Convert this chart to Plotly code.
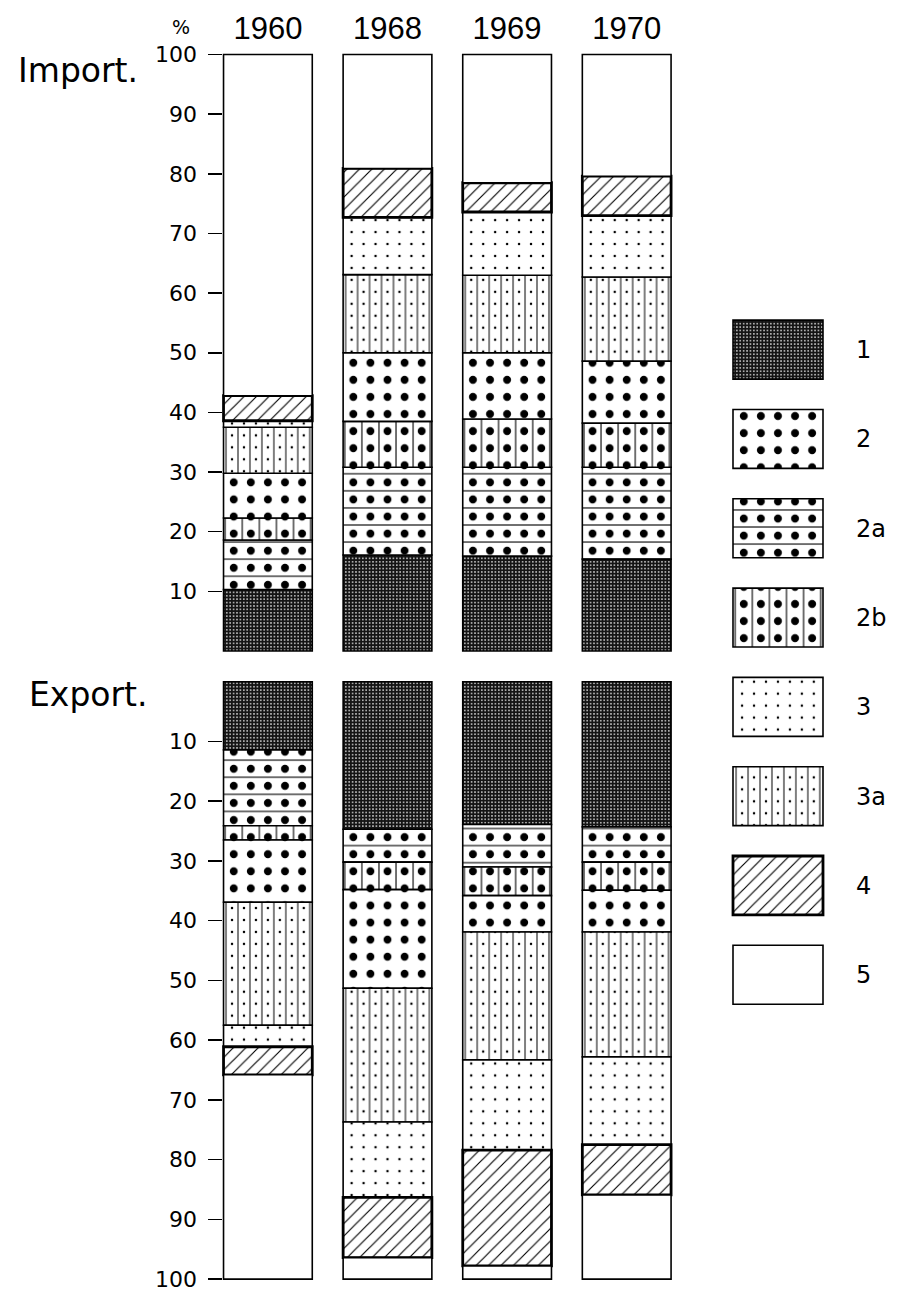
import numpy as np
import plotly.graph_objects as go

# ---------------- data (percent shares) ----------------
years = ["1960", "1968", "1969", "1970"]
# stacking order: from the 0 line outwards
classes = ["1", "2a", "2b", "2", "3a", "3", "4", "5"]
legend_classes = ["1", "2", "2a", "2b", "3", "3a", "4", "5"]

import_1 = [10.3, 16.1, 15.9, 15.4]
import_2a = [8.3, 14.7, 14.9, 15.4]
import_2b = [3.7, 7.7, 8.1, 7.4]
import_2 = [7.5, 11.5, 11.1, 10.4]
import_3a = [7.7, 13.1, 13.0, 14.1]
import_3 = [1.1, 9.6, 10.6, 10.3]
import_4 = [4.2, 8.2, 4.9, 6.6]
import_5 = [57.2, 19.1, 21.5, 20.4]

export_1 = [11.4, 24.7, 23.9, 24.3]
export_2a = [12.7, 5.5, 7.1, 5.9]
export_2b = [2.4, 4.6, 4.8, 4.7]
export_2 = [10.4, 16.5, 6.1, 7.0]
export_3a = [20.6, 22.4, 21.4, 20.9]
export_3 = [3.6, 12.6, 15.1, 14.7]
export_4 = [4.7, 10.1, 19.4, 8.4]
export_5 = [34.2, 3.6, 2.2, 14.1]

tick_values = [10, 20, 30, 40, 50, 60, 70, 80, 90, 100]
tick_labels = ["10", "20", "30", "40", "50", "60", "70", "80", "90", "100"]

import_data = {"1": import_1, "2a": import_2a, "2b": import_2b, "2": import_2,
               "3a": import_3a, "3": import_3, "4": import_4, "5": import_5}
export_data = {"1": export_1, "2a": export_2a, "2b": export_2b, "2": export_2,
               "3a": export_3a, "3": export_3, "4": export_4, "5": export_5}

# ---------------- geometry (pixels) ----------------
W, H = 902, 1300
X0 = 208.1          # pixel of category -0.5
U = 119.6           # pixels per category
X1 = X0 + 4 * U
BAR_W = 0.742
S = U / 7           # big-dot tile
s = U / 10          # small-dot tile

IMP_ZERO, IMP_K = 652.0, -6.011
EXP_ZERO, EXP_K = 683.0, 6.02
LEG_X0, LEG_XU = 733.0, 90.0
LEG_Y0, LEG_YU = 348.3, 90.0
LEG_PAD = 14.85
LEG_W = 0.66
legend_span = 1

FONT = "DejaVu Sans"
TRANSP = "rgba(0,0,0,0)"


def xdom(p0, p1):
    return [p0 / W, p1 / W]


def ydom(ptop, pbot):
    return [1 - pbot / H, 1 - ptop / H]


def cat_x(dx):
    return dict(type="category", categoryorder="array", categoryarray=years,
                domain=xdom(X0 + dx, X1), range=[-0.5 + dx / U, 3.5])


def imp_y(dy):
    pt, pb = 43 + dy, 656
    return dict(domain=ydom(pt, pb),
                range=[(pb - IMP_ZERO) / IMP_K, (pt - IMP_ZERO) / IMP_K])


def exp_y(dy):
    pt, pb = 676 + dy, 1292
    return dict(domain=ydom(pt, pb),
                range=[(pb - EXP_ZERO) / EXP_K, (pt - EXP_ZERO) / EXP_K])


def leg_x(dx):
    p0, p1 = LEG_X0 - LEG_PAD + dx, 838
    return dict(domain=xdom(p0, p1),
                range=[(p0 - LEG_X0) / LEG_XU, (p1 - LEG_X0) / LEG_XU])


def leg_y(dy):
    pt, pb = LEG_Y0 - 45 + dy, LEG_Y0 + 7 * LEG_YU + 45
    return dict(type="category", categoryorder="array", categoryarray=legend_classes,
                domain=ydom(pt, pb),
                range=[(pb - LEG_Y0) / LEG_YU, (pt - LEG_Y0) / LEG_YU])


# ---------------- styles ----------------
def pat(**kw):
    d = dict(fillmode="replace", fgopacity=1)
    d.update(kw)
    return d


def base_marker(c):
    line = dict(color="black", width=1.6)
    if c == "1":
        p = pat(shape=".", bgcolor="#141414", fgcolor="#d0d0d0", size=3.4, solidity=0.22)
        return dict(color="#141414", line=line, pattern=p)
    if c in ("2", "2a", "2b"):
        p = pat(shape=".", bgcolor="white", fgcolor="black", size=S, solidity=0.17)
        return dict(color="white", line=line, pattern=p)
    if c == "3a":
        p = pat(shape="|", bgcolor="white", fgcolor="black", size=s, solidity=1.0 / s)
        return dict(color="white", line=line, pattern=p)
    if c == "4":
        p = pat(shape="/", bgcolor="white", fgcolor="black", size=8.8, solidity=0.13)
        return dict(color="white", line=dict(color="black", width=2.8), pattern=p)
    return dict(color="white", line=line)


def over_b_marker(c):
    if c == "2a":
        shape = "-"
    elif c == "2b":
        shape = "|"
    else:
        return None
    return dict(color=TRANSP, line=dict(width=0),
                pattern=pat(shape=shape, bgcolor=TRANSP, fgcolor="black", size=S, solidity=1.1 / S))


def over_c_marker(c):
    if c not in ("3", "3a"):
        return None
    return dict(color=TRANSP, line=dict(width=0),
                pattern=pat(shape=".", bgcolor=TRANSP, fgcolor="black", size=s, solidity=0.035))


fig = go.Figure()


def add_panel(data, ya_base, ya_b):
    layers = [(base_marker, "x", ya_base), (over_b_marker, "x2", ya_b), (over_c_marker, "x3", ya_base)]
    for mfun, xa, ya in layers:
        cum = np.zeros(len(years))
        for c in classes:
            v = np.array(data[c], dtype=float)
            m = mfun(c)
            if m is not None:
                fig.add_trace(go.Bar(x=years, y=v, base=cum.copy(), width=BAR_W,
                                     xaxis=xa, yaxis=ya, marker=m, name=c,
                                     showlegend=False, hoverinfo="skip"))
            cum += v


add_panel(import_data, "y", "y3")
add_panel(export_data, "y2", "y4")

# legend drawn as its own small bar chart
for mfun, xa, ya in [(base_marker, "x4", "y5"), (over_b_marker, "x5", "y6"), (over_c_marker, "x6", "y5")]:
    for c in legend_classes:
        m = mfun(c)
        if m is None:
            continue
        fig.add_trace(go.Bar(y=[c], x=[legend_span], base=[0], width=LEG_W, orientation="h",
                             xaxis=xa, yaxis=ya, marker=m, name=c,
                             showlegend=False, hoverinfo="skip"))

hidden = dict(visible=False, showgrid=False, zeroline=False)
yticks = dict(tickmode="array", tickvals=tick_values, ticktext=tick_labels,
              ticks="inside", ticklen=14, tickwidth=1.6, tickcolor="black",
              showline=False, showgrid=False, zeroline=False,
              tickfont=dict(family=FONT, size=22, color="black"), ticklabelstandoff=10)

fig.update_layout(
    width=W, height=H,
    margin=dict(l=0, r=0, t=0, b=0),
    paper_bgcolor="white", plot_bgcolor=TRANSP,
    barmode="overlay", showlegend=False,
    xaxis=dict(**cat_x(0), anchor="y", side="top", ticks="", showline=False, showgrid=False,
               zeroline=False, tickfont=dict(family="Liberation Sans", size=31, color="black")),
    xaxis2=dict(**cat_x(S / 2), anchor="y3", **hidden),
    xaxis3=dict(**cat_x(s / 2), anchor="y", **hidden),
    yaxis=dict(**imp_y(0), anchor="x", **yticks),
    yaxis2=dict(**exp_y(0), anchor="x", **yticks),
    yaxis3=dict(**imp_y(S / 2), anchor="x2", **hidden),
    yaxis4=dict(**exp_y(S / 2), anchor="x2", **hidden),
    xaxis4=dict(**leg_x(0), anchor="y5", **hidden),
    xaxis5=dict(**leg_x(S / 2), anchor="y6", **hidden),
    xaxis6=dict(**leg_x(s / 2), anchor="y5", **hidden),
    yaxis5=dict(**leg_y(0), anchor="x4", side="right", ticks="", showline=False, showgrid=False,
                zeroline=False, tickfont=dict(family=FONT, size=24, color="black"),
                ticklabelstandoff=17),
    yaxis6=dict(**leg_y(S / 2), anchor="x5", **hidden),
)

fig.add_annotation(text="%", x=181 / W, y=1 - 23 / H, xref="paper", yref="paper",
                   xanchor="center", yanchor="middle", showarrow=False,
                   font=dict(family=FONT, size=19, color="black"))
fig.add_annotation(text="Import.", x=16 / W, y=1 - 67.5 / H, xref="paper", yref="paper",
                   xanchor="left", yanchor="middle", showarrow=False,
                   font=dict(family=FONT, size=33, color="black"))
fig.add_annotation(text="Export.", x=27 / W, y=1 - 695.5 / H, xref="paper", yref="paper",
                   xanchor="left", yanchor="middle", showarrow=False,
                   font=dict(family=FONT, size=33, color="black"))

fig.write_html("out.html", config={"displayModeBar": False, "staticPlot": True},
               post_script="document.body.style.margin='0px';")
